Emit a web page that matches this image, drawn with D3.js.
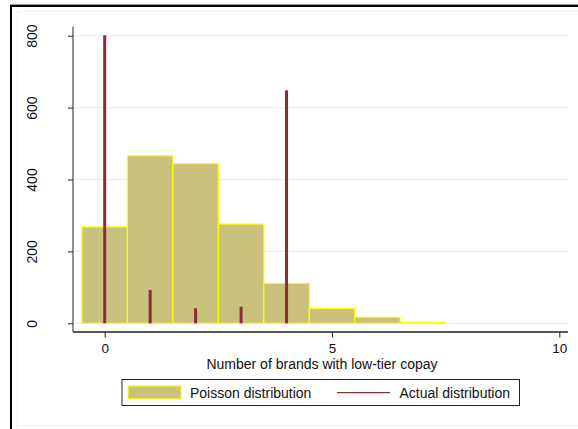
<!DOCTYPE html>
<html>
<head>
<meta charset="utf-8">
<script src="https://cdn.jsdelivr.net/npm/d3@7"></script>
<style>
  html, body { margin: 0; padding: 0; background: #fff; }
  svg { display: block; font-family: "Liberation Sans", Arial, sans-serif; }
</style>
</head>
<body>
<svg id="chart" width="578" height="429"></svg>
<script>
// Number of brands with a low-tier copay (x) and frequencies (y)
const poissonCounts = [0, 1, 2, 3, 4, 5, 6, 7];
const poissonFreq   = [268, 466, 444, 276, 111, 41, 17, 3];
const actualCounts  = [0, 1, 2, 3, 4];
const actualFreq    = [801, 93, 42, 46, 648];
const xTicks = [0, 5, 10];
const yTicks = [0, 200, 400, 600, 800];
const legendLabels = ["Poisson distribution", "Actual distribution"];

const svg = d3.select("#chart");
const W = 578, H = 429;

const colors = {
  barFill: "#cbc17e",
  barStroke: "#ffff00",
  spike: "#8b2c36",
  grid: "#eaf0f1",
  axis: "#222"
};

// plot region
const x = d3.scaleLinear().domain([0, 10]).range([104.7, 559.3]);
const y = d3.scaleLinear().domain([0, 800]).range([323.3, 35.7]);
const plotLeft = 73, plotRight = 568, axisY = 332;

// outer frame
svg.append("rect").attr("x", 0).attr("y", 0).attr("width", W).attr("height", H).attr("fill", "#fff");
svg.append("line").attr("x1", 10).attr("x2", W).attr("y1", 4.5).attr("y2", 4.5)
  .attr("stroke", "#999").attr("stroke-width", 1);
svg.append("line").attr("x1", 10).attr("x2", W).attr("y1", 6).attr("y2", 6)
  .attr("stroke", "#000").attr("stroke-width", 2);
svg.append("line").attr("x1", 11).attr("x2", 11).attr("y1", 5).attr("y2", H)
  .attr("stroke", "#000").attr("stroke-width", 2);
// light inner graph-region border
svg.append("path")
  .attr("d", `M17,${H} V11.5 H${W}`)
  .attr("fill", "none").attr("stroke", "#f1f3f4").attr("stroke-width", 1);
svg.append("line").attr("x1", 17).attr("x2", W).attr("y1", 425.5).attr("y2", 425.5)
  .attr("stroke", "#f1f3f4").attr("stroke-width", 1);

// gridlines
svg.append("g").selectAll("line").data(yTicks).join("line")
  .attr("x1", plotLeft).attr("x2", plotRight)
  .attr("y1", d => y(d)).attr("y2", d => y(d))
  .attr("stroke", colors.grid).attr("stroke-width", 1.3);

// Poisson bars (width 1, centred on each count)
svg.append("g").selectAll("rect").data(poissonCounts.map((c, i) => ({c, v: poissonFreq[i]}))).join("rect")
  .attr("x", d => x(d.c - 0.5))
  .attr("width", d => x(d.c + 0.5) - x(d.c - 0.5))
  .attr("y", d => y(d.v))
  .attr("height", d => y(0) - y(d.v))
  .attr("fill", colors.barFill)
  .attr("stroke", colors.barStroke)
  .attr("stroke-width", 1.2);

// actual distribution spikes
svg.append("g").selectAll("line").data(actualCounts.map((c, i) => ({c, v: actualFreq[i]}))).join("line")
  .attr("x1", d => x(d.c)).attr("x2", d => x(d.c))
  .attr("y1", y(0)).attr("y2", d => y(d.v))
  .attr("stroke", colors.spike).attr("stroke-width", 3);

// y axis
const yAxis = svg.append("g").attr("transform", `translate(${plotLeft},0)`)
  .call(d3.axisLeft(y).tickValues(yTicks).tickSize(5).tickSizeOuter(0).tickPadding(0));
yAxis.select(".domain").attr("d", `M0,26.5V${axisY}`).attr("stroke", "#555").attr("stroke-width", 1.3);
yAxis.selectAll(".tick line").attr("stroke", "#222").attr("stroke-width", 1);
yAxis.selectAll(".tick text")
  .attr("transform", d => `translate(${-36},0) rotate(-90)`)
  .attr("x", 0).attr("y", 0).attr("dy", 0)
  .attr("text-anchor", "middle")
  .attr("font-size", 14).attr("fill", "#111")
  .style("font-family", "'Liberation Sans', Arial, sans-serif");

// x axis
const xAxis = svg.append("g").attr("transform", `translate(0,${axisY})`)
  .call(d3.axisBottom(x).tickValues(xTicks).tickSize(5.5).tickSizeOuter(0).tickPadding(0).tickFormat(d3.format("d")));
xAxis.select(".domain").attr("d", `M${plotLeft},0H${plotRight}`).attr("stroke", "#222").attr("stroke-width", 1.3);
xAxis.selectAll(".tick line").attr("stroke", "#222");
xAxis.selectAll(".tick text")
  .attr("y", 21).attr("dy", 0)
  .attr("font-size", 13.5).attr("fill", "#111")
  .style("font-family", "'Liberation Sans', Arial, sans-serif");

// x axis title
svg.append("text")
  .attr("x", (203 + 441) / 2).attr("y", 368.5)
  .attr("text-anchor", "middle")
  .attr("font-size", 14).attr("fill", "#111")
  .text("Number of brands with low-tier copay");

// legend
const lg = svg.append("g");
lg.append("rect").attr("x", 122).attr("y", 379.5).attr("width", 397.5).attr("height", 26)
  .attr("fill", "#fff").attr("stroke", "#222").attr("stroke-width", 1);
lg.append("rect").attr("x", 128).attr("y", 386).attr("width", 53).attr("height", 13)
  .attr("fill", colors.barFill).attr("stroke", colors.barStroke).attr("stroke-width", 1.2);
lg.append("text").attr("x", 190).attr("y", 398).attr("font-size", 14).attr("fill", "#111")
  .text(legendLabels[0]);
lg.append("line").attr("x1", 337).attr("x2", 390).attr("y1", 392.7).attr("y2", 392.7)
  .attr("stroke", colors.spike).attr("stroke-width", 1.2);
lg.append("text").attr("x", 399.5).attr("y", 398).attr("font-size", 14).attr("fill", "#111")
  .text(legendLabels[1]);
</script>
</body>
</html>
